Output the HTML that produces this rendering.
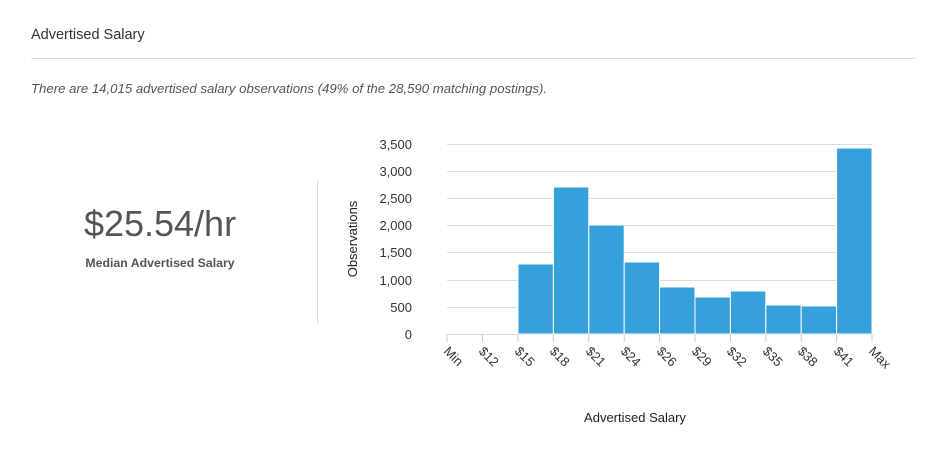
<!DOCTYPE html>
<html><head><meta charset="utf-8"><style>
body{margin:0;width:946px;height:454px;background:#fff;font-family:"Liberation Sans",sans-serif;position:relative;overflow:hidden}
.t{position:absolute;left:31px;top:27px;font-size:14.5px;color:#333}
.hr{position:absolute;left:31px;top:58px;width:885px;height:1px;background:#ddd}
.d{position:absolute;left:31px;top:81px;font-size:13.2px;color:#555;font-style:italic}
.big{position:absolute;left:0;width:320px;top:203px;text-align:center;font-size:36px;color:#555}
.sub{position:absolute;left:0;width:320px;top:256px;text-align:center;font-size:12.3px;color:#555;font-weight:bold}
.vl{position:absolute;left:317px;top:180px;width:1px;height:144px;background:#ddd}
</style></head><body>
<div class="t">Advertised Salary</div>
<div class="hr"></div>
<div class="d">There are 14,015 advertised salary observations (49% of the 28,590 matching postings).</div>
<div class="big">$25.54/hr</div>
<div class="sub">Median Advertised Salary</div>
<div class="vl"></div>
<svg width="946" height="454" style="position:absolute;left:0;top:0" font-family="Liberation Sans, sans-serif">
<g stroke="#ddd" stroke-width="1">
<line x1="447" x2="872" y1="144.5" y2="144.5"/><line x1="447" x2="872" y1="171.5" y2="171.5"/>
<line x1="447" x2="872" y1="198.5" y2="198.5"/><line x1="447" x2="872" y1="225.5" y2="225.5"/>
<line x1="447" x2="872" y1="252.5" y2="252.5"/><line x1="447" x2="872" y1="280.5" y2="280.5"/>
<line x1="447" x2="872" y1="307.5" y2="307.5"/><line x1="447" x2="872" y1="334.5" y2="334.5"/>
</g>
<g fill="#36a0da" stroke="#fff" stroke-width="1">
<rect x="518" y="264" width="35.4" height="70"/>
<rect x="553.4" y="187" width="35.4" height="147"/>
<rect x="588.8" y="225" width="35.4" height="109"/>
<rect x="624.2" y="262" width="35.4" height="72"/>
<rect x="659.6" y="287" width="35.4" height="47"/>
<rect x="695" y="297" width="35.4" height="37"/>
<rect x="730.4" y="291" width="35.4" height="43"/>
<rect x="765.8" y="305" width="35.4" height="29"/>
<rect x="801.2" y="306" width="35.4" height="28"/>
<rect x="836.6" y="148" width="35.4" height="186"/>
</g>
<g font-size="13" fill="#333" text-anchor="end">
<text x="412" y="149">3,500</text><text x="412" y="176">3,000</text><text x="412" y="203">2,500</text>
<text x="412" y="230">2,000</text><text x="412" y="257">1,500</text><text x="412" y="285">1,000</text>
<text x="412" y="312">500</text><text x="412" y="339">0</text>
</g>
<g stroke="#ccc">
<line x1="447" x2="447" y1="334" y2="342"/><line x1="482.4" x2="482.4" y1="334" y2="342"/>
<line x1="518" x2="518" y1="334" y2="342"/><line x1="553.4" x2="553.4" y1="334" y2="342"/>
<line x1="588.8" x2="588.8" y1="334" y2="342"/><line x1="624.2" x2="624.2" y1="334" y2="342"/>
<line x1="659.6" x2="659.6" y1="334" y2="342"/><line x1="695" x2="695" y1="334" y2="342"/>
<line x1="730.4" x2="730.4" y1="334" y2="342"/><line x1="765.8" x2="765.8" y1="334" y2="342"/>
<line x1="801.2" x2="801.2" y1="334" y2="342"/><line x1="836.6" x2="836.6" y1="334" y2="342"/>
<line x1="872" x2="872" y1="334" y2="342"/>
</g>
<g font-size="13" fill="#333">
<text transform="translate(443,352) rotate(45)">Min</text>
<text transform="translate(478,352) rotate(45)">$12</text>
<text transform="translate(514,352) rotate(45)">$15</text>
<text transform="translate(549,352) rotate(45)">$18</text>
<text transform="translate(585,352) rotate(45)">$21</text>
<text transform="translate(620,352) rotate(45)">$24</text>
<text transform="translate(656,352) rotate(45)">$26</text>
<text transform="translate(691,352) rotate(45)">$29</text>
<text transform="translate(726,352) rotate(45)">$32</text>
<text transform="translate(762,352) rotate(45)">$35</text>
<text transform="translate(797,352) rotate(45)">$38</text>
<text transform="translate(833,352) rotate(45)">$41</text>
<text transform="translate(868,352) rotate(45)">Max</text>
</g>
<text x="635" y="422" font-size="13" fill="#222" text-anchor="middle">Advertised Salary</text>
<text transform="translate(357,239) rotate(-90)" font-size="13" fill="#222" text-anchor="middle">Observations</text>
</svg>
</body></html>
